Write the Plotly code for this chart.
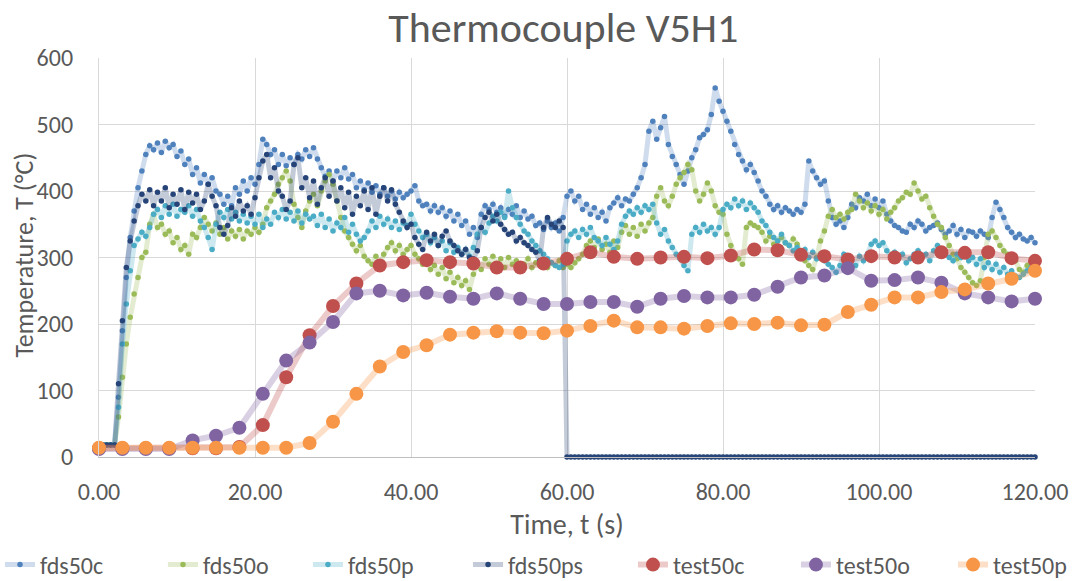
import plotly.graph_objects as go

# ---------------- data ----------------
# FDS time base (s), 0.5 s steps
t_fds = [i * 0.5 for i in range(241)]

fds50c = [
    18, 18, 18, 18, 18, 90, 190, 270, 330, 370,
    405, 430, 455, 468, 462, 472, 458, 475, 465, 470,
    452, 460, 440, 448, 425, 435, 412, 425, 410, 420,
    400, 395, 380, 392, 378, 405, 395, 415, 400, 420,
    410, 440, 478, 470, 455, 462, 440, 455, 438, 450,
    440, 455, 448, 462, 452, 465, 448, 435, 422, 430,
    415, 430, 420, 435, 418, 425, 405, 415, 402, 412,
    398, 408, 395, 405, 392, 400, 388, 398, 390, 395,
    400, 408, 385, 378, 380, 370, 378, 368, 375, 362,
    370, 355, 365, 348, 355, 335, 345, 330, 365, 378,
    372, 380, 368, 375, 362, 372, 365, 378, 360, 370,
    358, 362, 348, 352, 342, 355, 345, 352, 340, 360,
    392, 400, 385, 392, 372, 380, 365, 375, 360, 368,
    355, 375, 382, 390, 378, 388, 385, 395, 405, 420,
    440, 490, 505, 478, 495, 512, 470, 452, 440, 425,
    410, 430, 450, 462, 480, 485, 492, 515, 555, 535,
    520, 505, 490, 470, 455, 445, 432, 440, 428, 415,
    400, 392, 380, 372, 378, 368, 375, 370, 365, 372,
    368, 380, 445, 430, 420, 410, 415, 385, 360, 350,
    355, 345, 360, 380, 375, 390, 385, 395, 378, 388,
    375, 385, 365, 355, 348, 345, 340, 338, 350, 345,
    355, 350, 340, 345, 348, 352, 342, 335, 340, 348,
    335, 342, 330, 340, 338, 332, 340, 335, 330, 360,
    383, 372, 360, 345, 338, 330, 335, 328, 325, 330,
    322,
]

fds50o = [
    18, 18, 18, 18, 18, 60, 120, 170, 210, 245,
    270, 300, 308, 350, 365, 345, 350, 335, 340, 322,
    330, 312, 318, 305, 335, 330, 345, 360, 350, 340,
    352, 335, 345, 328, 340, 332, 342, 328, 340, 335,
    345, 338, 350, 375, 385, 395, 410, 420, 430, 415,
    380, 360, 345, 370, 385, 395, 378, 400, 415, 425,
    410, 385, 360, 340, 330, 320, 310, 318, 302, 295,
    290, 302, 288, 305, 315, 322, 310, 318, 305, 312,
    318, 305, 298, 290, 295, 282, 288, 275, 285, 268,
    278, 262, 270, 258, 265, 252, 275, 290, 282, 298,
    290, 302, 288, 298, 285, 300, 290, 295, 282, 290,
    298, 285, 292, 288, 295, 285, 292, 288, 295, 285,
    290, 285, 292, 298, 305, 318, 325, 315, 328, 312,
    320, 308, 325, 315, 338, 348, 335, 345, 332, 350,
    340, 352, 360, 392, 405, 385, 378, 392, 410, 420,
    428, 440, 432, 400, 385, 395, 412, 400, 378, 368,
    365, 335, 318, 305, 298, 290, 345, 352, 348, 345,
    338, 325, 332, 320, 325, 330, 322, 318, 328, 320,
    305, 295, 288, 282, 300, 325, 340, 362, 372, 360,
    365, 358, 368, 372, 395, 385, 375, 382, 370, 378,
    365, 372, 358, 368, 375, 385, 390, 398, 395, 412,
    400, 388, 392, 375, 362, 350, 345, 330, 318, 305,
    298, 285, 278, 270, 262, 258, 265, 300, 335, 340,
    330, 318, 310, 305, 300, 295, 282, 278, 288, 292,
    285,
]

fds50p = [
    18, 18, 18, 18, 18, 75, 170, 230, 280, 318,
    328, 338, 332, 345, 365, 372, 360, 378, 365, 380,
    362, 372, 368, 378, 362, 372, 355, 345, 330, 312,
    350, 368, 360, 372, 358, 368, 355, 365, 352, 362,
    350, 365, 345, 358, 350, 368, 360, 372, 358, 368,
    355, 370, 352, 365, 358, 362, 348, 365, 345, 358,
    340, 352, 345, 360, 338, 350, 335, 325, 330, 340,
    355, 345, 362, 350, 358, 345, 355, 342, 352, 348,
    365, 350, 340, 330, 335, 322, 330, 318, 325, 310,
    322, 308, 315, 305, 312, 302, 315, 335, 345, 338,
    352, 362, 355, 368, 360, 400, 375, 360, 350, 340,
    335, 325, 318, 310, 305, 298, 292, 288, 285, 290,
    325, 335, 340, 330, 342, 335, 345, 330, 325, 318,
    330, 320, 312, 325, 350, 362, 370, 365, 375, 368,
    378, 372, 380, 352, 335, 342, 325, 315, 305, 298,
    288, 280, 335, 345, 338, 350, 340, 345, 335, 345,
    372, 380, 375, 388, 378, 385, 372, 382, 375, 368,
    355, 348, 338, 330, 325, 335, 322, 318, 310, 315,
    305, 312, 300, 308, 298, 305, 295, 290, 285, 278,
    288, 305, 300, 295, 288, 302, 295, 305, 320, 325,
    318, 322, 310, 302, 308, 298, 305, 292, 298, 305,
    310, 300, 305, 295, 310, 318, 312, 305, 300, 295,
    305, 300, 310, 295, 300, 290, 298, 285, 292, 282,
    290, 278, 285, 275, 280, 272, 270, 275, 280, 285,
    290,
]

fds50ps = [
    18, 18, 18, 18, 18, 110, 205, 285, 325, 355,
    378, 395, 385, 402, 378, 398, 385, 405, 375, 395,
    380, 402, 372, 398, 382, 395, 372, 385, 410, 392,
    378, 345, 335, 348, 375, 362, 385, 370, 378, 365,
    390, 420, 445, 455, 420, 435, 400, 392, 372, 385,
    440, 450, 405, 420, 390, 415, 380, 405, 420, 392,
    415, 385, 405, 375, 398, 365, 392, 378, 400, 372,
    405, 365, 392, 405, 385, 402, 380, 368, 355, 345,
    350, 330, 320, 312, 338, 325, 335, 318, 332, 340,
    325, 318, 310, 305, 312, 300, 298, 310, 345, 360,
    368, 355, 365, 350, 342, 335, 338, 325, 330, 322,
    318, 312, 308, 295, 345, 360, 350, 345, 355, 345,
    0, 0, 0, 0, 0, 0, 0, 0, 0, 0,
    0, 0, 0, 0, 0, 0, 0, 0, 0, 0,
    0, 0, 0, 0, 0, 0, 0, 0, 0, 0,
    0, 0, 0, 0, 0, 0, 0, 0, 0, 0,
    0, 0, 0, 0, 0, 0, 0, 0, 0, 0,
    0, 0, 0, 0, 0, 0, 0, 0, 0, 0,
    0, 0, 0, 0, 0, 0, 0, 0, 0, 0,
    0, 0, 0, 0, 0, 0, 0, 0, 0, 0,
    0, 0, 0, 0, 0, 0, 0, 0, 0, 0,
    0, 0, 0, 0, 0, 0, 0, 0, 0, 0,
    0, 0, 0, 0, 0, 0, 0, 0, 0, 0,
    0, 0, 0, 0, 0, 0, 0, 0, 0, 0,
    0,
]

# Test measurements every 3 s
t_test = [3 * i for i in range(41)]
test50c = [13, 13, 13, 13, 13, 13, 15, 48, 120, 183, 227, 261, 288, 293, 296, 293,
           291, 285, 285, 291, 298, 308, 301, 298, 300, 301, 299, 303, 312, 311,
           304, 302, 297, 302, 300, 300, 308, 307, 308, 299, 295]
test50o = [12, 12, 12, 12, 25, 32, 44, 95, 145, 172, 203, 246, 250, 243, 247, 241,
           238, 246, 238, 230, 230, 233, 233, 226, 238, 242, 240, 240, 244, 256,
           270, 273, 284, 265, 266, 270, 262, 246, 240, 234, 238]
test50p = [14, 14, 14, 14, 14, 14, 14, 14, 14, 21, 53, 95, 136, 158, 168, 184,
           187, 189, 187, 186, 190, 197, 205, 195, 195, 193, 197, 201, 200, 202,
           198, 199, 218, 229, 240, 240, 248, 252, 261, 268, 280]

x_tick_vals = [0, 20, 40, 60, 80, 100, 120]
y_tick_vals = [0, 100, 200, 300, 400, 500, 600]

# ---------------- styling ----------------
FONT = "Carlito, Lato, sans-serif"
TXT = "#595959"

fds_series = [
    ("fds50c", fds50c, (79, 129, 189)),
    ("fds50o", fds50o, (155, 187, 89)),
    ("fds50p", fds50p, (75, 172, 198)),
    ("fds50ps", fds50ps, (38, 68, 120)),
]
test_series = [
    ("test50c", test50c, (192, 80, 77)),
    ("test50o", test50o, (128, 100, 162)),
    ("test50p", test50p, (247, 150, 70)),
]

# legend slots (container x of each legend box), one legend per series
legend_x = [0.0, 0.1519, 0.2870, 0.4362, 0.5899, 0.7418, 0.8882]
legend_y = 1 - 565 / 581

fig = go.Figure()
k = 0
for name, vals, (r, g, b) in fds_series:
    k += 1
    fig.add_trace(go.Scatter(
        x=t_fds, y=vals, name=name, mode="lines+markers",
        line=dict(color=f"rgba({r},{g},{b},0.28)", width=5),
        marker=dict(color=f"rgb({r},{g},{b})", size=5.5),
        cliponaxis=False, legend="legend" if k == 1 else f"legend{k}",
    ))
for name, vals, (r, g, b) in test_series:
    k += 1
    fig.add_trace(go.Scatter(
        x=t_test, y=vals, name=name, mode="lines+markers",
        line=dict(color=f"rgba({r},{g},{b},0.3)", width=6),
        marker=dict(color=f"rgb({r},{g},{b})", size=14),
        cliponaxis=False, legend=f"legend{k}",
    ))

legend_style = dict(orientation="h", xanchor="left", yanchor="middle",
                    xref="container", yref="container",
                    font=dict(family=FONT, size=24, color=TXT),
                    itemwidth=30, bgcolor="rgba(0,0,0,0)", borderwidth=0)
legends = {}
for i, lx in enumerate(legend_x):
    key = "legend" if i == 0 else f"legend{i + 1}"
    legends[key] = dict(legend_style, x=lx, y=legend_y)

fig.update_layout(
    width=1073, height=581,
    margin=dict(l=99, r=38, t=58, b=124),
    paper_bgcolor="white", plot_bgcolor="white",
    font=dict(family=FONT, color=TXT, size=20),
    title=dict(text="Thermocouple V5H1", x=0.496, xref="paper", xanchor="center",
               y=1 - 27 / 581, yanchor="middle",
               font=dict(family=FONT, size=42, color=TXT)),
    showlegend=True,
    xaxis=dict(range=[0, 120], tickvals=x_tick_vals, tickformat=".2f",
               automargin=False,
               showgrid=True, gridcolor="#D9D9D9", gridwidth=1.3,
               showline=True, linecolor="#BFBFBF", linewidth=1.3,
               zeroline=False, ticks="", ticklabelstandoff=13,
               tickfont=dict(size=24, color=TXT),
               title=dict(text="Time, t (s)", font=dict(size=28, color=TXT), standoff=10)),
    yaxis=dict(range=[0, 600], tickvals=y_tick_vals,
               automargin=False,
               showgrid=True, gridcolor="#D9D9D9", gridwidth=1.3,
               showline=True, linecolor="#D9D9D9", linewidth=1.3,
               zeroline=False, ticks="", ticklabelstandoff=20,
               tickfont=dict(size=24, color=TXT)),
    annotations=[dict(text="Temperature, T (°C)", textangle=-90,
                      xref="paper", yref="paper", x=(24 - 99) / 936, y=0.505,
                      xanchor="center", yanchor="middle", showarrow=False,
                      font=dict(family=FONT, size=26, color=TXT))],
    **legends,
)

fig.write_html("out.html")
